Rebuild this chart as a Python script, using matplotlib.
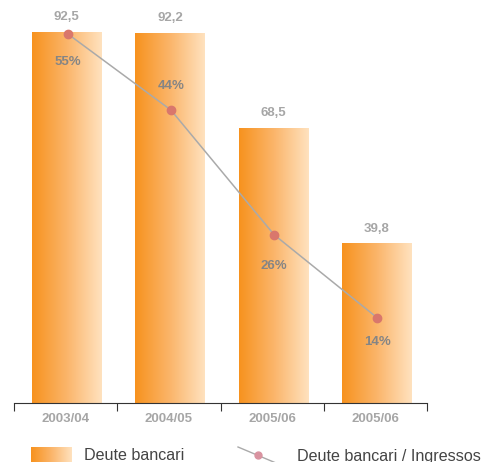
import numpy as np
import matplotlib.pyplot as plt
from matplotlib.colors import LinearSegmentedColormap
from matplotlib.lines import Line2D

cats = ['2003/04', '2004/05', '2005/06', '2005/06']
deute = [92.5, 92.2, 68.5, 39.8]
deute_lbl = ['92,5', '92,2', '68,5', '39,8']
ratio = [55, 44, 26, 14]
ratio_lbl = ['55%', '44%', '26%', '14%']

plt.rcParams['font.family'] = ['Liberation Sans', 'DejaVu Sans']

grad = LinearSegmentedColormap.from_list('og', ['#F7921E', '#FBB56A', '#FFE2BF'])
g = np.linspace(0, 1, 256).reshape(1, -1)

W, H = 482, 462
fig = plt.figure(figsize=(W / 100, H / 100), dpi=100)
ax = fig.add_axes([14 / W, (H - 403) / H, 413 / W, 383 / H])
x = np.arange(len(cats)) + 0.01
bw = 0.67

ax.set_xlim(-0.5, 3.5)
ax.set_ylim(0, 383 / 4.01)
for xi, v, s in zip(x, deute, deute_lbl):
    ax.imshow(g, cmap=grad, extent=[xi - bw / 2, xi + bw / 2, 0, v],
              aspect='auto', zorder=1)
    ax.text(xi, v + 2.2, s, ha='center', va='bottom', fontsize=9.5,
            fontweight='bold', color='#a6a6a6')

for s in ['top', 'left', 'right']:
    ax.spines[s].set_visible(False)
ax.spines['bottom'].set_color('#333333')
ax.set_yticks([])
ax.set_xticks([-0.5, 0.5, 1.5, 2.5, 3.5])
ax.set_xticklabels([])
ax.tick_params(axis='x', which='major', direction='out', length=6, color='#333333')
ax.set_xticks(np.arange(len(cats)), minor=True)
ax.set_xticklabels(cats, minor=True, fontsize=9.5, fontweight='bold', color='#a6a6a6')
ax.tick_params(axis='x', which='minor', length=0, pad=7)

ax2 = ax.twinx()
ax2.set_ylim(12 / 6.93, 395 / 6.93)
ax2.set_axis_off()
ax2.plot(x + 0.01, ratio, color='#aaaaaa', lw=1.1, marker='o', ms=6,
         mfc='#d9776c', mec='#d9776c', zorder=3)
offs = [-4, 3.5, -4.5, -3.4]
for xi, v, s, o in zip(x, ratio, ratio_lbl, offs):
    ax2.text(xi + 0.01, v + o, s, ha='center', va='center', fontsize=9.5,
             fontweight='bold', color='#858585')

# legend
lax = fig.add_axes([31 / W, 0, 41 / W, 15 / H])
lax.imshow(g, cmap=grad, extent=[0, 1, 0, 1], aspect='auto')
lax.set_axis_off()
fig.text(84 / W, 6 / H, 'Deute bancari', fontsize=11.6, color='#444444', va='center')
fig.add_artist(Line2D([238 / W, 276 / W], [(H - 447) / H, (H - 463) / H],
                      transform=fig.transFigure, color='#aaaaaa', lw=1))
fig.add_artist(Line2D([258 / W], [(H - 455) / H], transform=fig.transFigure,
                      marker='o', ms=5, mfc='#d993a0', mec='#d993a0', lw=0))
fig.text(297 / W, 6 / H, 'Deute bancari / Ingressos', fontsize=11.6,
         color='#444444', va='center')

fig.savefig('out.png', dpi=100)
